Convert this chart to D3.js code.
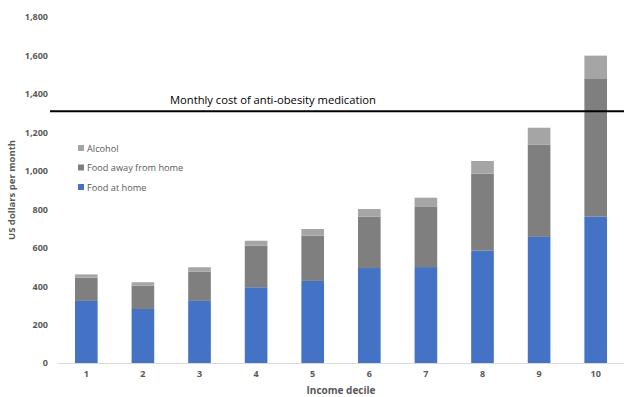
<!DOCTYPE html>
<html>
<head>
<meta charset="utf-8">
<script src="https://cdn.jsdelivr.net/npm/d3@7"></script>
<style>
  html, body { margin: 0; padding: 0; background: #fff; }
  svg { display: block; font-family: "Open Sans", "Liberation Sans", sans-serif; }
</style>
</head>
<body>
<svg id="chart" width="624" height="397"></svg>
<script>
// Monthly spending by income decile (US dollars)
const deciles = ["1", "2", "3", "4", "5", "6", "7", "8", "9", "10"];
const foodAtHome = [323, 281, 323, 394, 427, 494, 499, 584, 656, 761];
const foodAway = [121, 121, 152, 216, 235, 267, 313, 401, 481, 720];
const alcohol = [17, 18, 23, 26, 35, 40, 48, 66, 87, 118];
const seriesNames = ["Food at home", "Food away from home", "Alcohol"];
const seriesColors = ["#4472C4", "#7F7F7F", "#A5A5A5"];
const yTicks = [0, 200, 400, 600, 800, 1000, 1200, 1400, 1600, 1800];
const medicationCost = 1310;
const medicationLabel = "Monthly cost of anti-obesity medication";

const svg = d3.select("#chart");
const margin = { left: 58, right: 0, top: 17, bottom: 34 };
const W = 624, H = 397;

const x = d3.scaleBand().domain(deciles).range([margin.left, W - margin.right]).paddingInner(0.6).paddingOuter(0.3);
const y = d3.scaleLinear().domain([0, 1800]).range([H - margin.bottom, margin.top]);

const rows = deciles.map((d, i) => ({ decile: d, s0: foodAtHome[i], s1: foodAway[i], s2: alcohol[i] }));
const stack = d3.stack().keys(["s0", "s1", "s2"]);
const layers = stack(rows);

// x axis baseline
svg.append("line")
  .attr("x1", margin.left).attr("x2", W - margin.right)
  .attr("y1", y(0) + 0.5).attr("y2", y(0) + 0.5)
  .attr("stroke", "#D9D9D9").attr("stroke-width", 1);

// stacked bars
svg.append("g").selectAll("g")
  .data(layers)
  .join("g")
  .attr("fill", (d, i) => seriesColors[i])
  .selectAll("rect")
  .data(d => d)
  .join("rect")
  .attr("x", d => x(d.data.decile))
  .attr("width", x.bandwidth())
  .attr("y", d => y(d[1]))
  .attr("height", d => y(d[0]) - y(d[1]));

// y axis tick labels
const yAxis = d3.axisLeft(y).tickValues(yTicks).tickFormat(d3.format(",")).tickSize(0).tickPadding(0);
const gy = svg.append("g").attr("transform", "translate(48,0)").call(yAxis);
gy.select(".domain").remove();
gy.selectAll("text")
  .attr("fill", "#595959").attr("font-size", 9).attr("font-weight", "bold")
  .attr("font-family", "'Open Sans', sans-serif");

// x axis tick labels
const xAxis = d3.axisBottom(x).tickSize(0).tickPadding(0);
const gx = svg.append("g").attr("transform", `translate(0,${y(0) + 8})`).call(xAxis);
gx.select(".domain").remove();
gx.selectAll("text")
  .attr("fill", "#595959").attr("font-size", 9).attr("font-weight", "bold")
  .attr("font-family", "'Open Sans', sans-serif");

// axis titles
svg.append("text")
  .attr("x", 341).attr("y", 394)
  .attr("text-anchor", "middle")
  .attr("fill", "#595959").attr("font-size", 10).attr("font-weight", "bold")
  .text("Income decile");

svg.append("text")
  .attr("transform", `translate(15,${y(900)}) rotate(-90)`)
  .attr("text-anchor", "middle")
  .attr("fill", "#595959").attr("font-size", 9.5).attr("font-weight", "bold")
  .text("US dollars per month");

// medication cost reference line
svg.append("line")
  .attr("x1", 50).attr("x2", W)
  .attr("y1", y(medicationCost)).attr("y2", y(medicationCost))
  .attr("stroke", "#000").attr("stroke-width", 2);

svg.append("text")
  .attr("x", 170).attr("y", y(medicationCost) - 7)
  .attr("fill", "#000").attr("font-size", 11.2)
  .attr("font-family", "'Open Sans', sans-serif")
  .text(medicationLabel);

// legend
const legendItems = [2, 1, 0];
const lg = svg.append("g").attr("transform", "translate(78,150)");
legendItems.forEach((si, k) => {
  const g = lg.append("g").attr("transform", `translate(0,${k * 19.5})`);
  g.append("rect").attr("x", 0).attr("y", -5).attr("width", 6).attr("height", 6).attr("fill", seriesColors[si]);
  g.append("text").attr("x", 9).attr("y", 1.5)
    .attr("fill", "#595959").attr("font-size", 9.2)
    .text(seriesNames[si]);
});
</script>
</body>
</html>
